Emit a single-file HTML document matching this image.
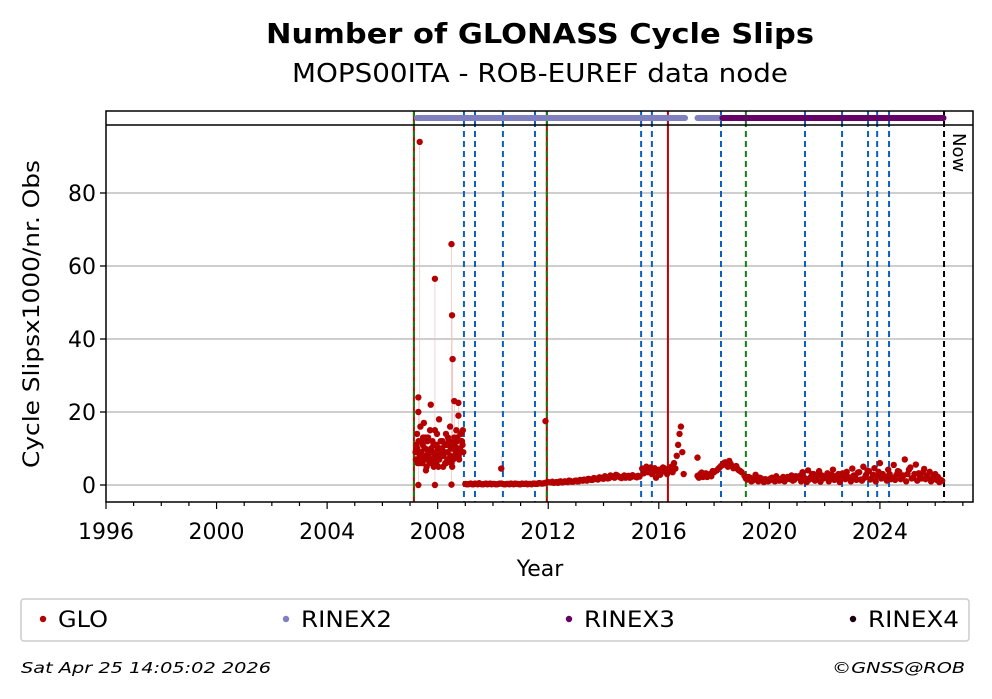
<!DOCTYPE html>
<html><head><meta charset="utf-8"><style>
body{margin:0;background:#fff;}
svg{display:block;font-family:"DejaVu Sans","Liberation Sans",sans-serif;}
</style></head><body>
<svg id="chart" width="992" height="699" viewBox="0 0 992 699" xmlns="http://www.w3.org/2000/svg">
<text x="540" y="43" text-anchor="middle" font-size="28" font-weight="bold" textLength="548" lengthAdjust="spacingAndGlyphs">Number of GLONASS Cycle Slips</text>
<text x="540" y="82" text-anchor="middle" font-size="26" textLength="496" lengthAdjust="spacingAndGlyphs">MOPS00ITA - ROB-EUREF data node</text>
<g id="grid"></g>
<g id="vlines"></g>
<g id="marks"></g>
<g id="band"></g>
<g id="axes"></g>
<text transform="translate(39,314) rotate(-90)" text-anchor="middle" font-size="22" textLength="308" lengthAdjust="spacingAndGlyphs">Cycle Slipsx1000/nr. Obs</text>
<text x="540" y="576" text-anchor="middle" font-size="22">Year</text>
<g>
<rect x="21" y="599" width="948" height="42" rx="3" fill="#fff" stroke="#ccc" stroke-width="1.5"/>
<g><circle cx="43" cy="619" r="3.2" fill="#b40000"/><text x="58" y="627" font-size="22" textLength="50" lengthAdjust="spacingAndGlyphs">GLO</text></g>
<g><circle cx="286" cy="619" r="3.2" fill="#8080c0"/><text x="301" y="627" font-size="22" textLength="91" lengthAdjust="spacingAndGlyphs">RINEX2</text></g>
<g><circle cx="569" cy="619" r="3.2" fill="#660066"/><text x="584" y="627" font-size="22" textLength="91" lengthAdjust="spacingAndGlyphs">RINEX3</text></g>
<g><circle cx="853" cy="619" r="3.2" fill="#1a0010"/><text x="868" y="627" font-size="22" textLength="91" lengthAdjust="spacingAndGlyphs">RINEX4</text></g>
</g>
<text x="21" y="673" font-size="15" font-style="italic" textLength="250" lengthAdjust="spacingAndGlyphs">Sat Apr 25 14:05:02 2026</text>
<text x="965" y="673" text-anchor="end" font-size="15" font-style="italic" textLength="133" lengthAdjust="spacingAndGlyphs">©GNSS@ROB</text>
</svg>
<script>
const xTicks=[1996,2000,2004,2008,2012,2016,2020,2024];
const yTicks=[0,20,40,60,80];
const segStarts=[2007.2,2007.225,2007.21,2009.0,2009.05,2012.1,2012.15,2015.4,2015.45,2016.4,2017.4,2017.45,2018.1,2018.15,2019.1,2019.15,2021.1,2021.15];
const segSteps=[0.05,0.05,0.05,0.1,0.1,0.1,0.1,0.1,0.1,0.05,0.1,0.1,0.1,0.1,0.1,0.1,0.1,0.1];
const segA1=[9,14,20,8,12,6,17,10,5,13,9,22,7,11,15,6,10,18,8,12,5,9,14,7,11,16,6,10,13,8,12,19,9,14,11];
const segA2=[11,6,9,16,7,13,10,4,12,8,15,6,9,11,7,14,5,10,8,12,9,6,11,13,7,10,5,12,8,15,10,7,14,12,9];
const segA3=[7,10,12,6,9,11,8,13,7,9,6,10,12,5,8,11,9,7,12,10,8,11,6,9,12,8,10,7,11,9,13,8,10,12,15];
const segB1=[0.3,0.2,0.4,0.2,0.3,0.5,0.2,0.3,0.2,0.4,0.3,0.2,0.3,0.4,0.2,0.3,0.2,0.3,0.4,0.3,0.2,0.3,0.4,0.3,0.2,0.4,0.3,0.5,0.4,0.6,0.8];
const segB2=[0.2,0.3,0.2,0.4,0.2,0.3,0.2,0.4,0.3,0.2,0.3,0.2,0.4,0.3,0.2,0.3,0.4,0.2,0.3,0.2,0.4,0.3,0.2,0.3,0.4,0.3,0.5,0.4,0.5,0.7];
const segC1=[0.7,0.6,0.8,0.9,0.7,1.0,0.8,1.1,0.9,1.2,1.0,1.3,1.5,1.2,1.6,1.4,1.8,1.5,2.0,1.7,2.2,1.9,2.4,2.0,2.6,2.1,2.3,2.0,2.5,2.2,2.4,2.1,2.3];
const segC2=[0.9,0.7,0.6,1.0,0.8,0.9,1.2,0.9,1.1,1.0,1.4,1.2,1.3,1.7,1.4,1.9,1.6,2.1,1.8,2.4,1.8,2.6,2.2,2.8,2.3,1.9,2.6,2.4,2.0,2.7,2.3,2.5];
const segD1=[4.5,4.0,3.5,4.8,3.8,2.0,4.2,3.5,4.6,3.0];
const segD2=[3.2,5.0,4.2,3.0,4.6,3.6,2.8,4.8,3.8];
const segE=[4,5,3.5,6,4.5,8,11,14,16,9,3];
const segF1=[2.5,3.0,2.2,3.2,2.8,2.4,3.5];
const segF2=[2.0,3.4,2.6,2.2,3.0,3.8];
const segG1=[4,4.8,5.5,6.2,5.0,5.8,4.6,5.2,4.0,3.5];
const segG2=[4.4,5.2,6.0,5.4,6.6,5.2,4.8,4.4,3.8];
const segH1=[2.5,1.5,2.0,1.2,2.8,1.0,1.8,0.8,1.5,1.2,2.0,1.0,1.6,1.3,2.2,1.5,1.8,2.6,1.4,2.0];
const segH2=[1.8,2.2,1.0,1.6,1.4,2.0,1.2,1.6,1.0,1.8,1.4,2.4,1.2,1.8,1.0,2.2,1.6,1.2,2.4];
const segI1=[2.5,3.5,1.8,4.0,2.2,3.0,1.5,3.8,2.6,2.0,3.2,1.6,4.2,2.4,3.0,1.8,2.8,3.6,2.0,4.5,2.2,3.4,1.5,5.0,2.8,3.8,1.8,4.6,2.5,6.0,3.0,2.0,4.2,1.6,5.5,2.8,3.6,2.2,7.0,3.0,4.8,2.0,5.6,3.2,1.8,4.4,2.6,3.6,1.5,3.0,2.2,1.4];
const segI2=[1.0,2.0,0.8,1.5,3.0,1.2,2.5,0.9,1.8,2.4,1.0,2.8,1.4,2.0,0.8,3.2,1.6,2.2,1.0,2.6,1.4,3.5,1.2,2.0,4.0,1.5,2.8,1.0,3.6,1.8,2.4,1.2,3.0,2.0,1.4,3.8,1.6,2.6,1.0,4.2,1.8,3.0,1.2,2.4,3.4,1.6,2.0,1.0,2.8,1.4,0.8,1.2];
const outlierYears=[2007.35,2007.3,2007.9,2007.9,2008.5,2008.52,2008.54,2008.6,2008.75,2007.3,2008.5,2010.3,2011.9,2017.4];
const outlierValues=[94,24,56.5,0,66,46.5,34.5,23,22.5,0,0.1,4.5,17.5,7.5];
const blueLines=[2008.95,2009.35,2010.36,2011.52,2015.36,2015.75,2018.25,2021.29,2022.63,2023.57,2023.9,2024.33];
const redGreenLines=[2007.14,2011.95];
const redLines=[2016.33];
const greenLines=[2019.15];
const nowLine=[2026.32];
const rinex2Spans=[[2007.25,2016.95],[2017.4,2026.3]];
const rinex3Spans=[[2018.3,2026.3]];

const L=106,R=973,T=111,B=502,BAND=125;
const X=y=>L+(y-1996)*27.64;
const Y=v=>485-v*3.65;
const NS='http://www.w3.org/2000/svg';
function mk(tag,attrs,parent){const e=document.createElementNS(NS,tag);for(const k in attrs)e.setAttribute(k,attrs[k]);parent.appendChild(e);return e;}
const grid=document.getElementById('grid'),axes=document.getElementById('axes'),vl=document.getElementById('vlines'),marks=document.getElementById('marks'),band=document.getElementById('band');

yTicks.forEach(v=>{
  const g=mk('line',{x1:L,x2:R,y1:Y(v),y2:Y(v),stroke:'#b0b0b0','stroke-width':1.3},grid);
  
  
  mk('line',{x1:L-6,x2:L,y1:Y(v),y2:Y(v),stroke:'#000','stroke-width':1.3},axes);
  const t=mk('text',{x:L-10,y:Y(v)+8,'text-anchor':'end','font-size':22},axes);
  t.textContent=v;
  
  
});
for(let yr=1996;yr<=2027;yr++){
  const major=xTicks.includes(yr);
  mk('line',{x1:X(yr),x2:X(yr),y1:B,y2:B+(major?7:4),stroke:'#000','stroke-width':1.2},axes);
}
xTicks.forEach(yr=>{
  const t=mk('text',{x:X(yr),y:B+37,'text-anchor':'middle','font-size':22},axes);
  t.textContent=yr;
  
  
});
mk('rect',{x:L,y:T,width:R-L,height:B-T,fill:'none',stroke:'#000','stroke-width':1.5},axes);
mk('line',{x1:L,x2:R,y1:BAND,y2:BAND,stroke:'#000','stroke-width':1.5},axes);

function vline(yr,color,dash,name){
  const l=mk('line',{x1:X(yr),x2:X(yr),y1:T,y2:B,stroke:color,'stroke-width':2,'stroke-dasharray':dash},vl);
  
  
}
blueLines.forEach(y=>vline(y,'#0a5fc0','6,4','event-line-blue'));
redGreenLines.forEach(y=>{vline(y,'#c00000','none','event-line-red');vline(y,'#108010','6,4','event-line-green');});
redLines.forEach(y=>vline(y,'#c00000','none','event-line-red'));
greenLines.forEach(y=>vline(y,'#108010','6,4','event-line-green'));
nowLine.forEach(y=>{
  vline(y,'#000','6,4','now-line');
  const t=mk('text',{transform:`translate(${X(y)+9},${BAND+8}) rotate(90)`,'font-size':18},axes);
  t.textContent='Now';
  
  
});

const segs=[segA1,segA2,segA3,segB1,segB2,segC1,segC2,segD1,segD2,segE,segF1,segF2,segG1,segG2,segH1,segH2,segI1,segI2];
const pts=[];
segs.forEach((s,si)=>s.forEach((v,i)=>pts.push([segStarts[si]+segSteps[si]*i,v])));
outlierYears.forEach((y,i)=>{
  pts.push([y,outlierValues[i]]);
  const l=mk('line',{x1:X(y),x2:X(y),y1:Y(outlierValues[i]),y2:Y(8),stroke:'#f0c0c0','stroke-width':0.7},marks);
  
  
});
pts.forEach(p=>{
  const c=mk('circle',{cx:X(p[0]),cy:Y(p[1]),r:3.2,fill:'#b40000'},marks);
  
  
});
function span(s,color,name){
  const l=mk('line',{x1:X(s[0]),x2:X(s[1]),y1:118,y2:118,stroke:color,'stroke-width':6,'stroke-linecap':'round'},band);
  
  
}
rinex2Spans.forEach(s=>span(s,'#8080c0','rinex2-span'));
rinex3Spans.forEach(s=>span(s,'#660066','rinex3-span'));
</script>
</body></html>
